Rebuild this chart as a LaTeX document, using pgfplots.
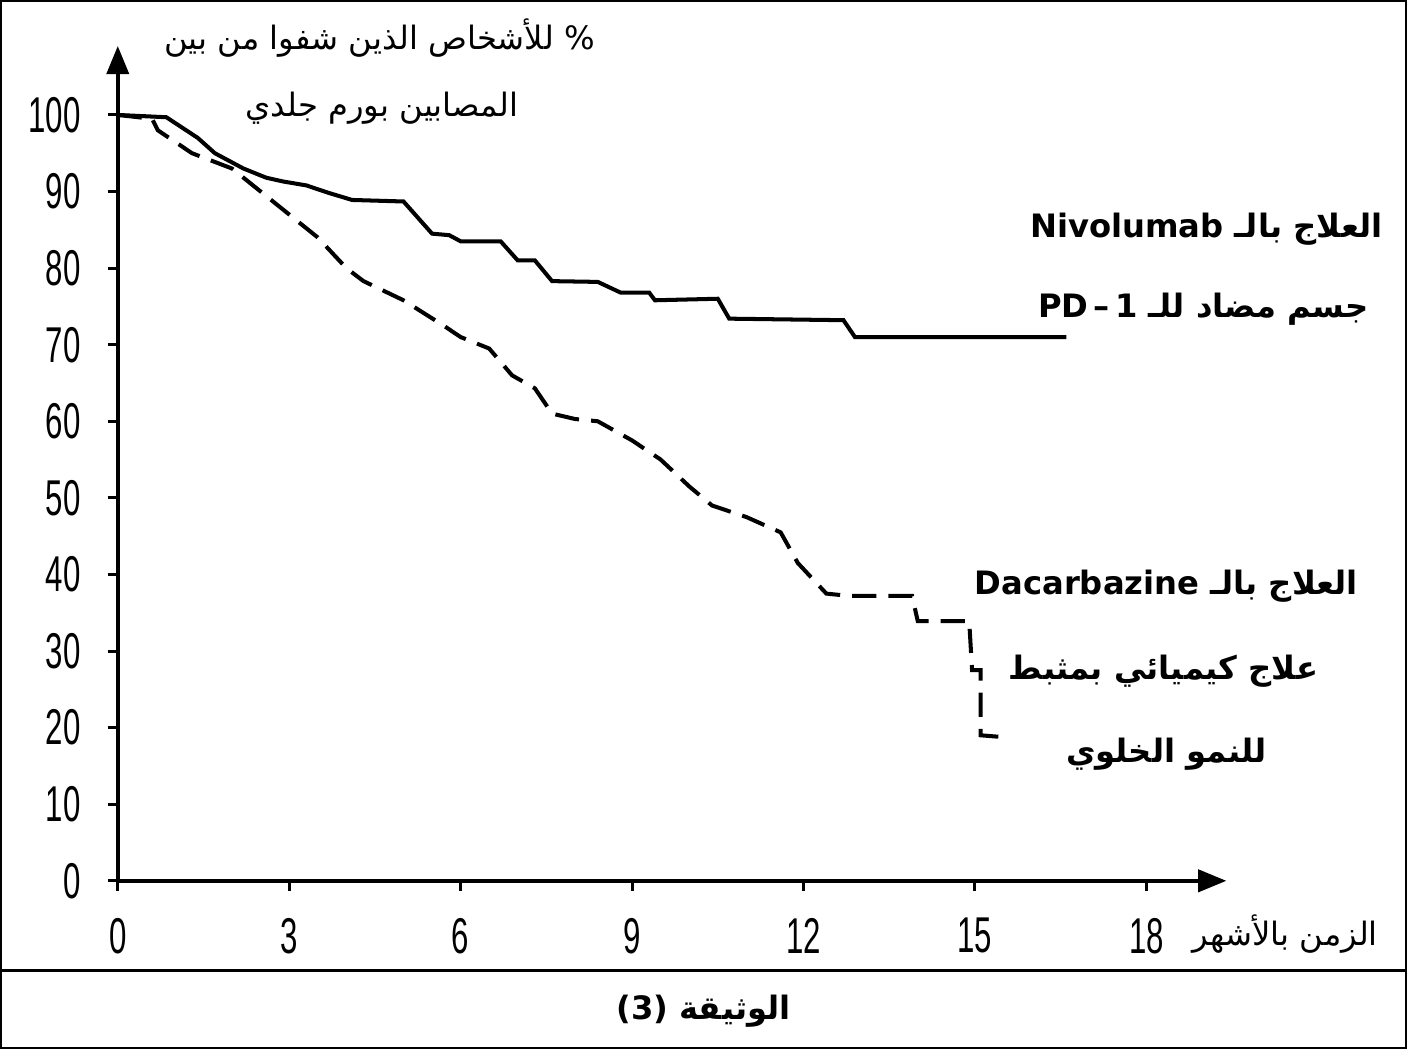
\documentclass[border=0pt]{standalone}
\usepackage{pgfplots}
\pgfplotsset{compat=1.18}
\usetikzlibrary{arrows.meta}
\usepackage{fontspec}
\setmainfont{Liberation Sans}
\newfontfamily\arabicfont[Script=Arabic]{DejaVu Sans}
\newfontfamily\condfont[FakeStretch=0.62]{Liberation Sans}
\TeXXeTstate=1
\begin{document}
\begin{tikzpicture}
\begin{axis}[
  x=28.39pt, y=3.805pt,
  xmin=0, xmax=19.4, ymin=0, ymax=109,
  axis lines=left,
  axis line style={-{Triangle[length=14pt,width=11pt]}, line width=1.8pt},
  xtick={0,3,...,18}, ytick={0,10,...,100},
  tick style={line width=1.5pt, black},
  major tick length=5pt,
  tick align=outside,
  xticklabel style={yshift=-10pt},
  yticklabel style={xshift=-10pt},
  ticklabel style={font=\condfont\fontsize{25}{25}\selectfont},
  /pgf/number format/assume math mode=true,
  clip=false,
]
\addplot[black, line width=2pt] coordinates {
(0,100)(0.85,99.7)(1.4,97)(1.7,95)(2.2,93)(2.6,91.8)(2.9,91.3)(3.3,90.8)(3.7,89.8)(4.1,88.9)(5.0,88.7)(5.5,84.5)(5.8,84.3)(6.0,83.5)(6.7,83.5)(7.0,81)(7.3,81)(7.6,78.3)(8.4,78.2)(8.8,76.8)(9.3,76.8)(9.4,75.8)(10.5,76)(10.7,73.4)(12.7,73.2)(12.9,71)(16.6,71)};
\addplot[black, line width=2pt, dash pattern=on 12pt off 6pt] coordinates {
(0,100)(0.6,99.5)(0.7,98)(1.3,95)(2.0,93)(2.5,90)(3.0,87)(3.5,84)(4.0,80)(4.3,78.3)(5.0,75.8)(5.7,72.5)(6.0,71)(6.5,69.5)(6.9,66)(7.3,64.3)(7.6,61)(8.0,60.3)(8.4,60)(9.0,57.5)(9.5,55)(10.0,51.5)(10.4,49)(11.0,47.5)(11.6,45.5)(11.9,41.5)(12.4,37.5)(12.8,37.2)(13.9,37.2)(14.0,33.9)(14.9,33.9)(14.95,27.5)(15.1,27.5)(15.1,19)(15.6,18.7)};
\draw[line width=1.2pt] (axis cs:-2.04,114.85) rectangle (axis cs:22.54,-21.8);
\draw[line width=1.2pt] (axis cs:-2.04,-11.7) -- (axis cs:22.54,-11.7);
\begin{scope}[every node/.style={font=\arabicfont\fontsize{16}{16}\selectfont, inner sep=0pt}]
\node at (axis cs:4.58,110.0) {\beginR\% للأشخاص الذين شفوا من بين\endR};
\node at (axis cs:4.62,100.9) {\beginR المصابين بورم جلدي\endR};
\node[font=\arabicfont\bfseries\fontsize{16}{16}\selectfont] at (axis cs:19.05,85.1) {\beginR العلاج بالـ \beginL Nivolumab\endL\endR};
\node[font=\arabicfont\bfseries\fontsize{16}{16}\selectfont] at (axis cs:19.0,74.6) {\beginR جسم مضاد للـ \beginL PD\,–\,1\endL\endR};
\node[font=\arabicfont\bfseries\fontsize{16}{16}\selectfont] at (axis cs:18.35,38.5) {\beginR العلاج بالـ \beginL Dacarbazine\endL\endR};
\node[font=\arabicfont\bfseries\fontsize{16}{16}\selectfont] at (axis cs:18.3,27.4) {\beginR علاج كيميائي بمثبط\endR};
\node[font=\arabicfont\bfseries\fontsize{16}{16}\selectfont] at (axis cs:18.35,16.5) {\beginR للنمو الخلوي\endR};
\node at (axis cs:20.43,-6.9) {\beginR الزمن بالأشهر\endR};
\node[font=\arabicfont\bfseries\fontsize{16}{16}\selectfont] at (axis cs:10.25,-17.0) {\beginR الوثيقة \beginL(3)\endL\endR};
\end{scope}
\end{axis}
\end{tikzpicture}
\end{document}
